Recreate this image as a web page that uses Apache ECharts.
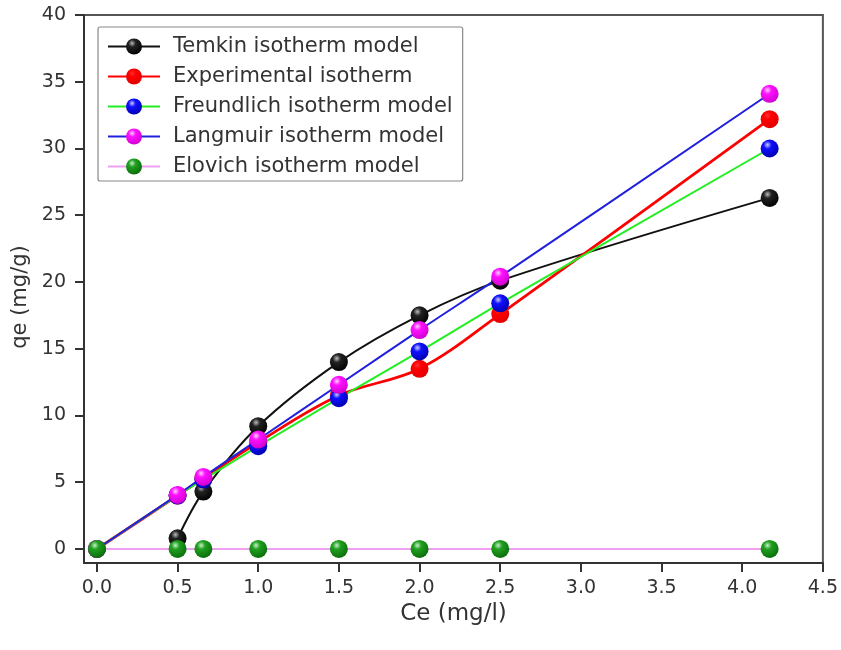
<!DOCTYPE html>
<html>
<head>
<meta charset="utf-8">
<script src="https://cdn.jsdelivr.net/npm/echarts@6/dist/echarts.min.js"></script>
<style>html,body{margin:0;padding:0;background:#fff;}#c{width:841px;height:650px;}</style>
</head>
<body>
<div id="c"></div>
<script>
const ceX = [0, 0.5, 0.66, 1.0, 1.5, 2.0, 2.5, 4.17];
const temkin = [null, 0.8, 4.3, 9.2, 14.0, 17.5, 20.1, 26.3];
const experimental = [0, 4.0, 5.3, 8.0, 11.5, 13.5, 17.6, 32.2];
const freundlich = [0, 4.0, 5.2, 7.7, 11.3, 14.8, 18.4, 30.0];
const langmuir = [0, 4.05, 5.4, 8.2, 12.3, 16.4, 20.4, 34.1];
const elovich = [0, 0, 0, 0, 0, 0, 0, 0];
const xTicks = [0, 0.5, 1.0, 1.5, 2.0, 2.5, 3.0, 3.5, 4.0, 4.5];
const yTicks = [0, 5, 10, 15, 20, 25, 30, 35, 40];
const seriesNames = ['Temkin isotherm model', 'Experimental isotherm', 'Freundlich isotherm model', 'Langmuir isotherm model', 'Elovich isotherm model'];

function pairs(vals) {
  const out = [];
  vals.forEach((v, i) => { if (v !== null) out.push([ceX[i], v]); });
  return out;
}
function sphere(hi, base, dark) {
  return {type: 'radial', x: 0.38, y: 0.3, r: 0.75,
    colorStops: [{offset: 0, color: hi}, {offset: 0.3, color: base}, {offset: 1, color: dark}]};
}
const FONT = 'DejaVu Sans';
function mk(name, vals, lineColor, markerFill, lw) {
  return {
    name: name, type: 'line', data: pairs(vals), smooth: 0.35,
    symbol: 'circle', symbolSize: 18,
    lineStyle: {color: lineColor, width: lw},
    itemStyle: {color: markerFill, borderWidth: 0},
    emphasis: {disabled: true},
    z: 2
  };
}
const chart = echarts.init(document.getElementById('c'), null, {renderer: 'canvas'});
chart.setOption({
  animation: false,
  backgroundColor: '#fff',
  grid: {left: 84, right: 15, top: 15, bottom: 87, show: true, borderColor: '#555', borderWidth: 2, backgroundColor: 'transparent'},
  legend: {
    orient: 'vertical', left: 98, top: 27,
    data: seriesNames,
    itemWidth: 52, itemHeight: 20, itemGap: 9,
    padding: [9, 10, 4, 9],
    borderColor: '#888', borderWidth: 1.2, borderRadius: 2,
    textStyle: {fontFamily: FONT, fontSize: 21, color: '#333', padding: [0, 0, 0, 8]}
  },
  xAxis: {
    type: 'value', min: -0.08, max: 4.5,
    name: 'Ce (mg/l)', nameLocation: 'middle', nameGap: 36,
    nameTextStyle: {fontFamily: FONT, fontSize: 23, color: '#333'},
    axisLine: {show: true, onZero: false, lineStyle: {color: '#333', width: 2}},
    axisTick: {show: true, customValues: xTicks, length: 9, inside: false, lineStyle: {color: '#333', width: 2}},
    axisLabel: {customValues: xTicks, formatter: v => v.toFixed(1), fontFamily: FONT, fontSize: 19, color: '#333', margin: 16},
    splitLine: {show: false}
  },
  yAxis: {
    type: 'value', min: -1.05, max: 40,
    name: 'qe (mg/g)', nameLocation: 'middle', nameGap: 50, nameRotate: 90,
    nameTextStyle: {fontFamily: FONT, fontSize: 21, color: '#333', padding: [0, 16, 0, 0]},
    axisLine: {show: true, onZero: false, lineStyle: {color: '#333', width: 2}},
    axisTick: {show: true, customValues: yTicks, length: 9, inside: false, lineStyle: {color: '#333', width: 2}},
    axisLabel: {customValues: yTicks, fontFamily: FONT, fontSize: 19, color: '#333', margin: 18},
    splitLine: {show: false}
  },
  series: [
    mk(seriesNames[0], temkin, '#111', sphere('#bbb', '#222', '#000'), 2),
    mk(seriesNames[1], experimental, '#ff0000', sphere('#ff3030', '#ff0000', '#e00000'), 2.8),
    mk(seriesNames[2], freundlich, '#22ee22', sphere('#ccccff', '#1010ff', '#0000aa'), 2),
    mk(seriesNames[3], langmuir, '#2020dd', sphere('#ffd0ff', '#ff10ff', '#cc00cc'), 2),
    mk(seriesNames[4], elovich, '#f0a0f0', sphere('#c8f0c8', '#20a020', '#0a6a0a'), 2)
  ]
});
</script>
</body>
</html>
